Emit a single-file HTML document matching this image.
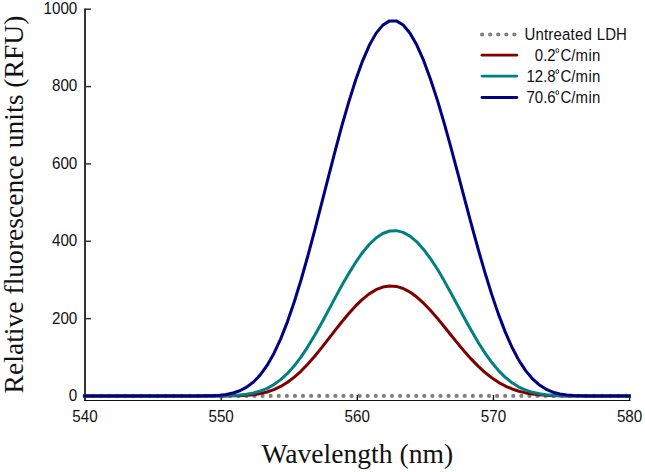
<!DOCTYPE html>
<html><head><meta charset="utf-8"><style>
html,body{margin:0;padding:0;background:#fff;}
svg{display:block;}
.t{font-family:"Liberation Sans",sans-serif;font-size:15.2px;fill:#111;}
.l{font-size:15px;}
.u{letter-spacing:0.2px;}
.sup{font-size:8px;}
.s{font-family:"Liberation Serif",serif;font-size:27.6px;fill:#111;}
</style></head><body>
<svg width="645" height="472" viewBox="0 0 645 472">
<rect width="645" height="472" fill="#fff"/>
<g fill="#808080"><circle cx="84.70" cy="395.9" r="2.1"/><circle cx="92.79" cy="395.9" r="2.1"/><circle cx="100.87" cy="395.9" r="2.1"/><circle cx="108.96" cy="395.9" r="2.1"/><circle cx="117.04" cy="395.9" r="2.1"/><circle cx="125.13" cy="395.9" r="2.1"/><circle cx="133.22" cy="395.9" r="2.1"/><circle cx="141.30" cy="395.9" r="2.1"/><circle cx="149.39" cy="395.9" r="2.1"/><circle cx="157.47" cy="395.9" r="2.1"/><circle cx="165.56" cy="395.9" r="2.1"/><circle cx="173.65" cy="395.9" r="2.1"/><circle cx="181.73" cy="395.9" r="2.1"/><circle cx="189.82" cy="395.9" r="2.1"/><circle cx="197.90" cy="395.9" r="2.1"/><circle cx="205.99" cy="395.9" r="2.1"/><circle cx="214.08" cy="395.9" r="2.1"/><circle cx="222.16" cy="395.9" r="2.1"/><circle cx="230.25" cy="395.9" r="2.1"/><circle cx="238.33" cy="395.9" r="2.1"/><circle cx="246.42" cy="395.9" r="2.1"/><circle cx="254.51" cy="395.9" r="2.1"/><circle cx="262.59" cy="395.9" r="2.1"/><circle cx="270.68" cy="395.9" r="2.1"/><circle cx="278.76" cy="395.9" r="2.1"/><circle cx="286.85" cy="395.9" r="2.1"/><circle cx="294.94" cy="395.9" r="2.1"/><circle cx="303.02" cy="395.9" r="2.1"/><circle cx="311.11" cy="395.9" r="2.1"/><circle cx="319.19" cy="395.9" r="2.1"/><circle cx="327.28" cy="395.9" r="2.1"/><circle cx="335.37" cy="395.9" r="2.1"/><circle cx="343.45" cy="395.9" r="2.1"/><circle cx="351.54" cy="395.9" r="2.1"/><circle cx="359.62" cy="395.9" r="2.1"/><circle cx="367.71" cy="395.9" r="2.1"/><circle cx="375.80" cy="395.9" r="2.1"/><circle cx="383.88" cy="395.9" r="2.1"/><circle cx="391.97" cy="395.9" r="2.1"/><circle cx="400.05" cy="395.9" r="2.1"/><circle cx="408.14" cy="395.9" r="2.1"/><circle cx="416.23" cy="395.9" r="2.1"/><circle cx="424.31" cy="395.9" r="2.1"/><circle cx="432.40" cy="395.9" r="2.1"/><circle cx="440.48" cy="395.9" r="2.1"/><circle cx="448.57" cy="395.9" r="2.1"/><circle cx="456.66" cy="395.9" r="2.1"/><circle cx="464.74" cy="395.9" r="2.1"/><circle cx="472.83" cy="395.9" r="2.1"/><circle cx="480.91" cy="395.9" r="2.1"/><circle cx="489.00" cy="395.9" r="2.1"/><circle cx="497.09" cy="395.9" r="2.1"/><circle cx="505.17" cy="395.9" r="2.1"/><circle cx="513.26" cy="395.9" r="2.1"/><circle cx="521.34" cy="395.9" r="2.1"/><circle cx="529.43" cy="395.9" r="2.1"/><circle cx="537.52" cy="395.9" r="2.1"/><circle cx="545.60" cy="395.9" r="2.1"/><circle cx="553.69" cy="395.9" r="2.1"/><circle cx="561.77" cy="395.9" r="2.1"/><circle cx="569.86" cy="395.9" r="2.1"/><circle cx="577.95" cy="395.9" r="2.1"/><circle cx="586.03" cy="395.9" r="2.1"/><circle cx="594.12" cy="395.9" r="2.1"/><circle cx="602.20" cy="395.9" r="2.1"/><circle cx="610.29" cy="395.9" r="2.1"/><circle cx="618.38" cy="395.9" r="2.1"/><circle cx="626.46" cy="395.9" r="2.1"/></g>
<line x1="85" y1="8.4" x2="85" y2="401" stroke="#333" stroke-width="2"/>
<line x1="84" y1="400.5" x2="630.3" y2="400.5" stroke="#111" stroke-width="1.2"/>
<line x1="85" y1="396.00" x2="91" y2="396.00" stroke="#333" stroke-width="1.5"/>
<text transform="translate(77.30,400.90) scale(1,1.06)" text-anchor="end" class="t">0</text>
<line x1="85" y1="318.64" x2="91" y2="318.64" stroke="#333" stroke-width="1.5"/>
<text transform="translate(77.30,323.54) scale(1,1.06)" text-anchor="end" class="t">200</text>
<line x1="85" y1="241.28" x2="91" y2="241.28" stroke="#333" stroke-width="1.5"/>
<text transform="translate(77.30,246.18) scale(1,1.06)" text-anchor="end" class="t">400</text>
<line x1="85" y1="163.92" x2="91" y2="163.92" stroke="#333" stroke-width="1.5"/>
<text transform="translate(77.30,168.82) scale(1,1.06)" text-anchor="end" class="t">600</text>
<line x1="85" y1="86.56" x2="91" y2="86.56" stroke="#333" stroke-width="1.5"/>
<text transform="translate(77.30,91.46) scale(1,1.06)" text-anchor="end" class="t">800</text>
<line x1="85" y1="9.20" x2="91" y2="9.20" stroke="#333" stroke-width="1.5"/>
<text transform="translate(77.30,14.10) scale(1,1.06)" text-anchor="end" class="t">1000</text>
<text transform="translate(85.00,421.70) scale(1,1.06)" text-anchor="middle" class="t">540</text>
<line x1="221.15" y1="395" x2="221.15" y2="401" stroke="#111" stroke-width="1.4"/>
<text transform="translate(221.15,421.70) scale(1,1.06)" text-anchor="middle" class="t">550</text>
<line x1="357.30" y1="395" x2="357.30" y2="401" stroke="#111" stroke-width="1.4"/>
<text transform="translate(357.30,421.70) scale(1,1.06)" text-anchor="middle" class="t">560</text>
<line x1="493.45" y1="395" x2="493.45" y2="401" stroke="#111" stroke-width="1.4"/>
<text transform="translate(493.45,421.70) scale(1,1.06)" text-anchor="middle" class="t">570</text>
<line x1="629.60" y1="395" x2="629.60" y2="401" stroke="#111" stroke-width="1.4"/>
<text transform="translate(629.60,421.70) scale(1,1.06)" text-anchor="middle" class="t">580</text>
<polyline points="83.3,396.00 90.1,396.00 96.9,396.00 103.7,396.00 110.5,396.00 117.3,396.00 124.1,396.00 130.9,396.00 137.7,396.00 144.5,396.00 151.3,396.00 158.1,396.00 165.0,396.00 171.8,396.00 178.6,396.00 185.4,396.00 192.2,396.00 199.0,396.00 205.8,396.00 212.6,396.00 219.4,395.98 226.2,395.95 233.0,395.87 239.8,395.69 246.6,395.33 253.5,394.69 260.3,393.63 267.1,392.00 273.9,389.64 280.7,386.44 287.5,382.28 294.3,377.14 301.1,371.03 307.9,364.02 314.7,356.25 321.5,347.90 328.3,339.19 335.1,330.37 341.9,321.71 348.8,313.48 355.6,305.93 362.4,299.32 369.2,293.85 376.0,289.71 382.8,287.04 389.6,285.91 396.4,286.39 403.2,288.46 410.0,292.05 416.8,297.02 423.6,303.18 430.4,310.30 437.3,318.15 444.1,326.45 450.9,334.94 457.7,343.36 464.5,351.49 471.3,359.13 478.1,366.12 484.9,372.35 491.7,377.76 498.5,382.31 505.3,386.04 512.1,388.98 518.9,391.24 525.8,392.90 532.6,394.07 539.4,394.85 546.2,395.36 553.0,395.66 559.8,395.83 566.6,395.92 573.4,395.97 580.2,395.99 587.0,396.00 593.8,396.00 600.6,396.00 607.4,396.00 614.2,396.00 621.1,396.00 627.9,396.00 630.7,396.00" fill="none" stroke="#800000" stroke-width="3" stroke-linejoin="round"/>
<polyline points="83.3,396.00 90.1,396.00 96.9,396.00 103.7,396.00 110.5,396.00 117.3,396.00 124.1,396.00 130.9,396.00 137.7,396.00 144.5,396.00 151.3,396.00 158.1,396.00 165.0,396.00 171.8,396.00 178.6,396.00 185.4,396.00 192.2,396.00 199.0,395.99 205.8,395.98 212.6,395.95 219.4,395.88 226.2,395.74 233.0,395.47 239.8,395.00 246.6,394.21 253.5,392.95 260.3,391.05 267.1,388.32 273.9,384.58 280.7,379.65 287.5,373.40 294.3,365.79 301.1,356.82 307.9,346.60 314.7,335.31 321.5,323.21 328.3,310.61 335.1,297.86 341.9,285.34 348.8,273.41 355.6,262.42 362.4,252.68 369.2,244.47 376.0,238.01 382.8,233.48 389.6,231.00 396.4,230.63 403.2,232.35 410.0,236.13 416.8,241.86 423.6,249.40 430.4,258.54 437.3,269.04 444.1,280.61 450.9,292.91 457.7,305.58 464.5,318.26 471.3,330.59 478.1,342.24 484.9,352.92 491.7,362.41 498.5,370.58 505.3,377.38 512.1,382.82 518.9,387.02 525.8,390.12 532.6,392.32 539.4,393.80 546.2,394.75 553.0,395.33 559.8,395.66 566.6,395.84 573.4,395.93 580.2,395.97 587.0,395.99 593.8,396.00 600.6,396.00 607.4,396.00 614.2,396.00 621.1,396.00 627.9,396.00 630.7,396.00" fill="none" stroke="#008080" stroke-width="3" stroke-linejoin="round"/>
<polyline points="83.3,396.00 90.1,396.00 96.9,396.00 103.7,396.00 110.5,396.00 117.3,396.00 124.1,396.00 130.9,396.00 137.7,396.00 144.5,396.00 151.3,396.00 158.1,396.00 165.0,396.00 171.8,396.00 178.6,396.00 185.4,396.00 192.2,395.98 199.0,395.95 205.8,395.86 212.6,395.66 219.4,395.24 226.2,394.44 233.0,393.03 239.8,390.72 246.6,387.17 253.5,382.01 260.3,374.87 267.1,365.44 273.9,353.49 280.7,338.88 287.5,321.61 294.3,301.81 301.1,279.73 307.9,255.74 314.7,230.31 321.5,203.98 328.3,177.34 335.1,151.02 341.9,125.65 348.8,101.86 355.6,80.23 362.4,61.31 369.2,45.56 376.0,33.39 382.8,25.10 389.6,20.90 396.4,20.90 403.2,25.03 410.0,33.17 416.8,45.10 423.6,60.48 430.4,78.91 437.3,99.90 444.1,122.93 450.9,147.43 457.7,172.83 464.5,198.56 471.3,224.07 478.1,248.85 484.9,272.43 491.7,294.39 498.5,314.38 505.3,332.15 512.1,347.51 518.9,360.40 525.8,370.84 532.6,378.98 539.4,385.04 546.2,389.33 553.0,392.19 559.8,393.98 566.6,395.01 573.4,395.56 580.2,395.82 587.0,395.94 593.8,395.98 600.6,395.99 607.4,396.00 614.2,396.00 621.1,396.00 627.9,396.00 630.7,396.00" fill="none" stroke="#000080" stroke-width="3" stroke-linejoin="round"/>
<text x="357.3" y="463.4" text-anchor="middle" class="s">Wavelength (nm)</text>
<text transform="translate(23.3,204.5) rotate(-90)" text-anchor="middle" class="s">Relative fluorescence units (RFU)</text>
<g fill="#808080"><circle cx="482.10" cy="34.5" r="2.1"/><circle cx="490.17" cy="34.5" r="2.1"/><circle cx="498.24" cy="34.5" r="2.1"/><circle cx="506.31" cy="34.5" r="2.1"/><circle cx="514.38" cy="34.5" r="2.1"/></g>
<line x1="482" y1="55.15" x2="516.8" y2="55.15" stroke="#800000" stroke-width="2.8" stroke-linecap="round"/>
<line x1="482" y1="76.1" x2="516.8" y2="76.1" stroke="#008080" stroke-width="2.8" stroke-linecap="round"/>
<line x1="482" y1="97.5" x2="516.8" y2="97.5" stroke="#000080" stroke-width="2.8" stroke-linecap="round"/>
<text transform="translate(524.40,39.50) scale(1,1.06)" class="t l u">Untreated</text>
<text transform="translate(596.80,39.50) scale(1,1.06)" class="t l">LDH</text>
<text transform="translate(555.70,60.60) scale(1,1.06)" text-anchor="end" class="t l">0.2</text>
<ellipse cx="557.3" cy="50.60" rx="1.35" ry="2.05" fill="none" stroke="#222" stroke-width="0.95"/>
<text transform="translate(560.50,60.60) scale(1,1.06)" class="t l">C/m</text>
<text transform="translate(588.60,60.60) scale(1,1.06)" class="t l">in</text>
<text transform="translate(555.70,81.60) scale(1,1.06)" text-anchor="end" class="t l">12.8</text>
<ellipse cx="557.3" cy="71.60" rx="1.35" ry="2.05" fill="none" stroke="#222" stroke-width="0.95"/>
<text transform="translate(560.50,81.60) scale(1,1.06)" class="t l">C/m</text>
<text transform="translate(588.60,81.60) scale(1,1.06)" class="t l">in</text>
<text transform="translate(555.70,102.60) scale(1,1.06)" text-anchor="end" class="t l">70.6</text>
<ellipse cx="557.3" cy="92.60" rx="1.35" ry="2.05" fill="none" stroke="#222" stroke-width="0.95"/>
<text transform="translate(560.50,102.60) scale(1,1.06)" class="t l">C/m</text>
<text transform="translate(588.60,102.60) scale(1,1.06)" class="t l">in</text>
</svg>
</body></html>
